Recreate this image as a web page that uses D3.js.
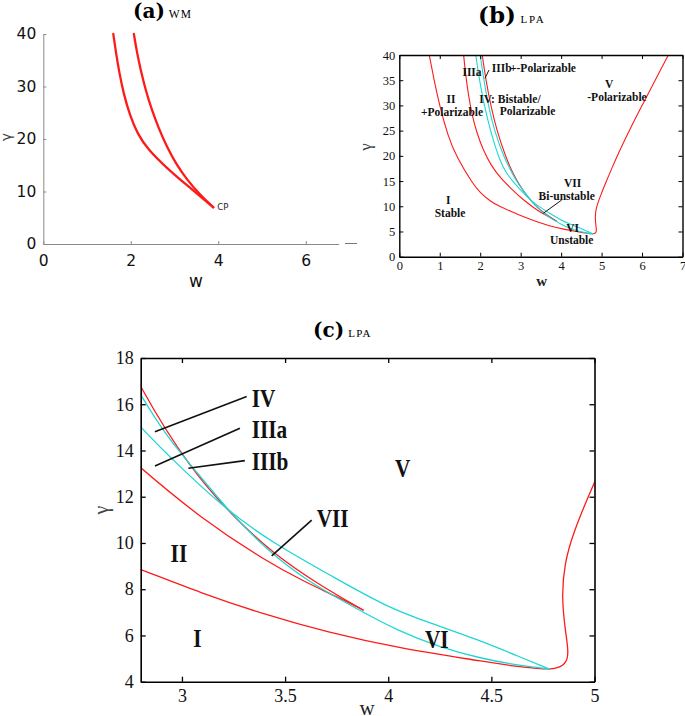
<!DOCTYPE html>
<html><head><meta charset="utf-8">
<script src="https://cdn.jsdelivr.net/npm/d3@7"></script>
<style>body{margin:0;background:#fff}svg{display:block}</style>
</head><body>
<svg id="chart" width="685" height="716"></svg>
<script>
// ---------------- DATA ----------------
// (a) WM
const wmTicksX = [0, 2, 4, 6];
const wmTicksY = [0, 10, 20, 30, 40];
const wmLeft  = [[1.6,40],[1.66,36.5],[1.74,32.5],[1.84,28.5],[1.98,24.5],[2.15,21],[2.4,17.9],[2.82,14.5],[3.28,11.2],[3.6,9.0],[3.886,6.99]];
const wmRight = [[2.07,40],[2.14,36.5],[2.23,33],[2.35,29],[2.48,25.6],[2.64,22],[2.82,18.6],[3.03,15.3],[3.28,12.3],[3.58,9.4],[3.886,6.99]];
// (b)/(c) LPA
const lpaTicksBX = [0,1,2,3,4,5,6,7];
const lpaTicksBY = [0,5,10,15,20,25,30,35,40];
const lpaTicksCX = [3,3.5,4,4.5,5];
const lpaTicksCY = [4,6,8,10,12,14,16,18];
const redLow = [[0.74,40],[0.86,35],[1.0,29.8],[1.2,24],[1.41,19.8],[1.82,14.4],[2.0,12.7],[2.23,11.1],[2.5,9.85],[2.8,8.86],[3.087,7.85],[3.41,6.88],[3.7,6.15],[4.055,5.44],[4.44,4.91],[4.6,4.68],[4.73,4.56],[4.8,4.53],[4.86,4.72],[4.876,5.23],[4.86,6.09],[4.84,7.68],[4.855,9.12],[4.895,10.42],[5.0,12.65],[5.1,14.6],[5.25,17.5],[5.45,21.1],[5.7,25.3],[6.0,30],[6.3,34.6],[6.65,40]];
const redMid = [[1.59,40],[1.64,36],[1.71,32],[1.8,28],[1.92,24.5],[2.07,21.2],[2.26,18.2],[2.5,15.6],[2.8,13.23],[3.087,11.1],[3.41,9.19],[3.6,8.3],[3.75,7.68],[3.878,7.1]];
const redUp  = [[2.05,40],[2.14,35],[2.26,30],[2.41,25],[2.62,20],[2.8,16.62],[3.039,13.23],[3.248,11.14],[3.442,9.55],[3.652,8.26],[3.878,7.1]];
const cyanA  = [[2.0,40],[2.09,35],[2.2,30],[2.35,25],[2.57,20],[2.8,16.36],[2.926,14.6],[3.087,12.9],[3.216,11.5],[3.41,9.70],[3.6,8.4],[3.829,7.24],[4.055,6.16],[4.25,5.5],[4.44,5.02],[4.636,4.7],[4.78,4.55]];
const cyanB  = [[1.89,40],[1.98,35],[2.1,30],[2.25,25],[2.5,18.6],[2.65,16.6],[2.8,14.96],[3.006,13.16],[3.216,11.43],[3.442,9.99],[3.732,8.54],[4.0,7.2],[4.2,6.55],[4.44,5.8],[4.636,5.08],[4.78,4.55]];
const lpaCurves = [
  {pts: redLow, c: "red"}, {pts: redMid, c: "red"}, {pts: redUp, c: "red"},
  {pts: cyanA, c: "cyan"}, {pts: cyanB, c: "cyan"}
];
// annotations in data coordinates
const labelsB = [
  {t:"IIIa", w:1.797, g:35.74, a:"middle"},
  {t:"IIIb", w:2.284, g:36.63, a:"start"},
  {t:"+-Polarizable", w:2.736, g:36.63, a:"start"},
  {t:"II", w:1.278, g:30.48, a:"middle"},
  {t:"+Polarizable", w:1.303, g:27.9, a:"middle"},
  {t:"IV: Bistable/", w:2.736, g:30.48, a:"middle"},
  {t:"Polarizable", w:3.169, g:28.16, a:"middle"},
  {t:"V", w:5.19, g:33.46, a:"middle"},
  {t:"-Polarizable", w:5.381, g:30.88, a:"middle"},
  {t:"VII", w:4.286, g:13.82, a:"middle"},
  {t:"Bi-unstable", w:4.138, g:11.30, a:"middle"},
  {t:"I", w:1.211, g:10.45, a:"middle"},
  {t:"Stable", w:1.253, g:7.93, a:"middle"},
  {t:"VI", w:4.286, g:4.90, a:"middle"},
  {t:"Unstable", w:4.261, g:2.52, a:"middle"}
];
const leadersB = [[[2.217,37.02],[2.118,35.38]], [[4.014,11.24],[3.559,8.61]]];
const labelsC = [
  {t:"IV", w:3.338, g:15.87}, {t:"IIIa", w:3.338, g:14.53}, {t:"IIIb", w:3.338, g:13.16},
  {t:"VII", w:3.653, g:10.70}, {t:"II", w:2.945, g:9.19}, {t:"I", w:3.055, g:5.49},
  {t:"V", w:4.033, g:12.84}, {t:"VI", w:4.178, g:5.47}
];
const leadersC = [
  [[3.314,16.33],[2.869,14.81]], [[3.281,14.96],[2.869,13.33]],
  [[3.305,13.56],[3.031,13.23]], [[3.629,10.99],[3.435,9.44]]
];

// ---------------- DRAW ----------------
const RED = "#ff1a1a", CYAN = "#1fd6d6";
const svg = d3.select("#chart");
svg.append("rect").attr("width",685).attr("height",716).attr("fill","#fff");
const SERIF = "'Liberation Serif','Times New Roman',serif";
const SANS = "'DejaVu Sans',sans-serif";

function drawCurves(g, sx, sy, curves, width, clipId) {
  const line = d3.line().x(d => sx(d[0])).y(d => sy(d[1])).curve(d3.curveBasis);
  const cg = g.append("g").attr("clip-path", `url(#${clipId})`);
  curves.forEach(c => cg.append("path").attr("d", line(c.pts)).attr("fill","none")
    .attr("stroke", c.c === "red" ? RED : CYAN).attr("stroke-width", width)
    .attr("stroke-linejoin","round").attr("stroke-linecap","round"));
}
function clip(id, sx, sy) {
  svg.append("clipPath").attr("id", id).append("rect")
    .attr("x", sx.range()[0]).attr("y", sy.range()[1])
    .attr("width", sx.range()[1]-sx.range()[0]).attr("height", sy.range()[0]-sy.range()[1]);
}

// ===== Panel (a) =====
{
  const x = d3.scaleLinear([0, 6.75], [43.3, 338.6]);
  const y = d3.scaleLinear([0, 40], [244, 34]);
  const g = svg.append("g");
  clip("clipA", x, d3.scaleLinear([0,40],[244,30]));
  const ax = g.append("g").attr("transform",`translate(0,${y(0)})`)
    .call(d3.axisBottom(x).tickValues(wmTicksX).tickSizeInner(-3).tickSizeOuter(0).tickPadding(11).tickFormat(d3.format("d")));
  const ay = g.append("g").attr("transform",`translate(${x(0)},0)`)
    .call(d3.axisLeft(y).tickValues(wmTicksY).tickSizeInner(-3).tickSizeOuter(0).tickPadding(7).tickFormat(d3.format("d")));
  [ax, ay].forEach(a => {
    a.select(".domain").attr("stroke","#8a8a8a").attr("stroke-width",1);
    a.selectAll(".tick line").attr("stroke","#8a8a8a");
    a.selectAll("text").attr("font-family",SANS).attr("font-size",15.5).attr("fill","#111");
  });
  drawCurves(g, x, y, [{pts:wmLeft,c:"red"},{pts:wmRight,c:"red"}], 2.3, "clipA");
  g.append("text").attr("x", x(3.886)+4).attr("y", y(6.99)+3).text("CP")
    .attr("font-family",SANS).attr("font-size",8.5).attr("fill","#222");
  g.append("text").attr("x",196).attr("y",287).attr("text-anchor","middle").text("w")
    .attr("font-family",SANS).attr("font-size",17).attr("fill","#111");
  g.append("text").attr("transform","translate(11,137) rotate(-90)").attr("text-anchor","middle").text("γ")
    .attr("font-family",SANS).attr("font-size",14).attr("fill","#444");
  const t = g.append("text").attr("x",133).attr("y",18);
  t.append("tspan").text("(a)").attr("font-family","'DejaVu Serif',serif").attr("font-weight","bold").attr("font-size",20);
  t.append("tspan").text(" WM").attr("font-family",SERIF).attr("font-size",11.5).attr("letter-spacing",1.2);
}

// ===== Panel (b) =====
{
  const x = d3.scaleLinear([0, 7], [399.3, 682.5]);
  const y = d3.scaleLinear([0, 40], [256.7, 55]);
  const g = svg.append("g");
  clip("clipB", x, y);
  drawCurves(g, x, y, lpaCurves, 1.1, "clipB");
  const mk = (axis, tr, labels) => {
    const a = g.append("g").attr("transform", tr).call(axis);
    a.select(".domain").attr("stroke","#000").attr("stroke-width",1.4);
    a.selectAll(".tick line").attr("stroke","#000");
    a.selectAll("text").attr("font-family",SERIF).attr("font-size",12.5).attr("fill","#111");
    if (!labels) a.selectAll("text").remove();
  };
  const fd = d3.format("d");
  mk(d3.axisBottom(x).tickValues(lpaTicksBX).tickSizeInner(-4).tickSizeOuter(0).tickPadding(4).tickFormat(fd), `translate(0,${y(0)})`, true);
  mk(d3.axisTop(x).tickValues(lpaTicksBX).tickSizeInner(-4).tickSizeOuter(0), `translate(0,${y(40)})`, false);
  mk(d3.axisLeft(y).tickValues(lpaTicksBY).tickSizeInner(-4).tickSizeOuter(0).tickPadding(4).tickFormat(fd), `translate(${x(0)},0)`, true);
  mk(d3.axisRight(y).tickValues(lpaTicksBY).tickSizeInner(-4).tickSizeOuter(0), `translate(${x(7)},0)`, false);
  labelsB.forEach(l => g.append("text").attr("x", x(l.w)).attr("y", y(l.g)).attr("text-anchor", l.a)
    .text(l.t).attr("font-family",SERIF).attr("font-weight","bold").attr("font-size",11.5).attr("fill","#111"));
  leadersB.forEach(s => g.append("line").attr("x1",x(s[0][0])).attr("y1",y(s[0][1]))
    .attr("x2",x(s[1][0])).attr("y2",y(s[1][1])).attr("stroke","#111").attr("stroke-width",1));
  g.append("text").attr("x",541.7).attr("y",286).attr("text-anchor","middle").text("w")
    .attr("font-family",SERIF).attr("font-weight","bold").attr("font-size",15).attr("fill","#222");
  g.append("text").attr("transform","translate(371,147) rotate(-90)").attr("text-anchor","middle").text("γ")
    .attr("font-family",SERIF).attr("font-size",17).attr("fill","#444");
  g.append("line").attr("x1",345).attr("x2",357).attr("y1",243.5).attr("y2",243.5).attr("stroke","#777").attr("stroke-width",1);
  const t = g.append("text").attr("x",478).attr("y",23);
  t.append("tspan").text("(b)").attr("font-family","'DejaVu Serif',serif").attr("font-weight","bold").attr("font-size",23);
  t.append("tspan").text(" LPA").attr("font-family",SERIF).attr("font-size",11).attr("letter-spacing",1.8);
}

// ===== Panel (c) =====
{
  const x = d3.scaleLinear([2.8, 5], [140.7, 594.5]);
  const y = d3.scaleLinear([4, 18], [681.7, 358]);
  const g = svg.append("g");
  clip("clipC", x, y);
  drawCurves(g, x, y, lpaCurves, 1.3, "clipC");
  const fmt = d => String(d);
  const mk = (axis, tr, labels) => {
    const a = g.append("g").attr("transform", tr).call(axis);
    a.select(".domain").attr("stroke","#000").attr("stroke-width",1.6);
    a.selectAll(".tick line").attr("stroke","#000").attr("stroke-width",1.3);
    a.selectAll("text").attr("font-family",SERIF).attr("font-size",18).attr("fill","#111");
    if (!labels) a.selectAll("text").remove();
  };
  mk(d3.axisBottom(x).tickValues(lpaTicksCX).tickSizeInner(-5).tickSizeOuter(0).tickPadding(8).tickFormat(fmt), `translate(0,${y(4)})`, true);
  mk(d3.axisTop(x).tickValues(lpaTicksCX).tickSizeInner(-5).tickSizeOuter(0), `translate(0,${y(18)})`, false);
  mk(d3.axisLeft(y).tickValues(lpaTicksCY).tickSizeInner(-5).tickSizeOuter(0).tickPadding(7).tickFormat(fmt), `translate(${x(2.8)},0)`, true);
  mk(d3.axisRight(y).tickValues(lpaTicksCY).tickSizeInner(-5).tickSizeOuter(0), `translate(${x(5)},0)`, false);
  labelsC.forEach(l => g.append("text").attr("transform",`translate(${x(l.w)},${y(l.g)}) scale(0.82,1)`)
    .text(l.t).attr("font-family",SERIF).attr("font-weight","bold").attr("font-size",26).attr("fill","#111"));
  leadersC.forEach(s => g.append("line").attr("x1",x(s[0][0])).attr("y1",y(s[0][1]))
    .attr("x2",x(s[1][0])).attr("y2",y(s[1][1])).attr("stroke","#111").attr("stroke-width",1.6));
  g.append("text").attr("x",367).attr("y",715).attr("text-anchor","middle").text("w")
    .attr("font-family",SERIF).attr("font-size",21).attr("fill","#222");
  g.append("text").attr("transform","translate(108,510) rotate(-90)").attr("text-anchor","middle").text("γ")
    .attr("font-family",SERIF).attr("font-size",20).attr("fill","#444");
  const t = g.append("text").attr("x",313).attr("y",337);
  t.append("tspan").text("(c)").attr("font-family","'DejaVu Serif',serif").attr("font-weight","bold").attr("font-size",20);
  t.append("tspan").text(" LPA").attr("font-family",SERIF).attr("font-size",11).attr("letter-spacing",1.3);
}
</script>
</body></html>
